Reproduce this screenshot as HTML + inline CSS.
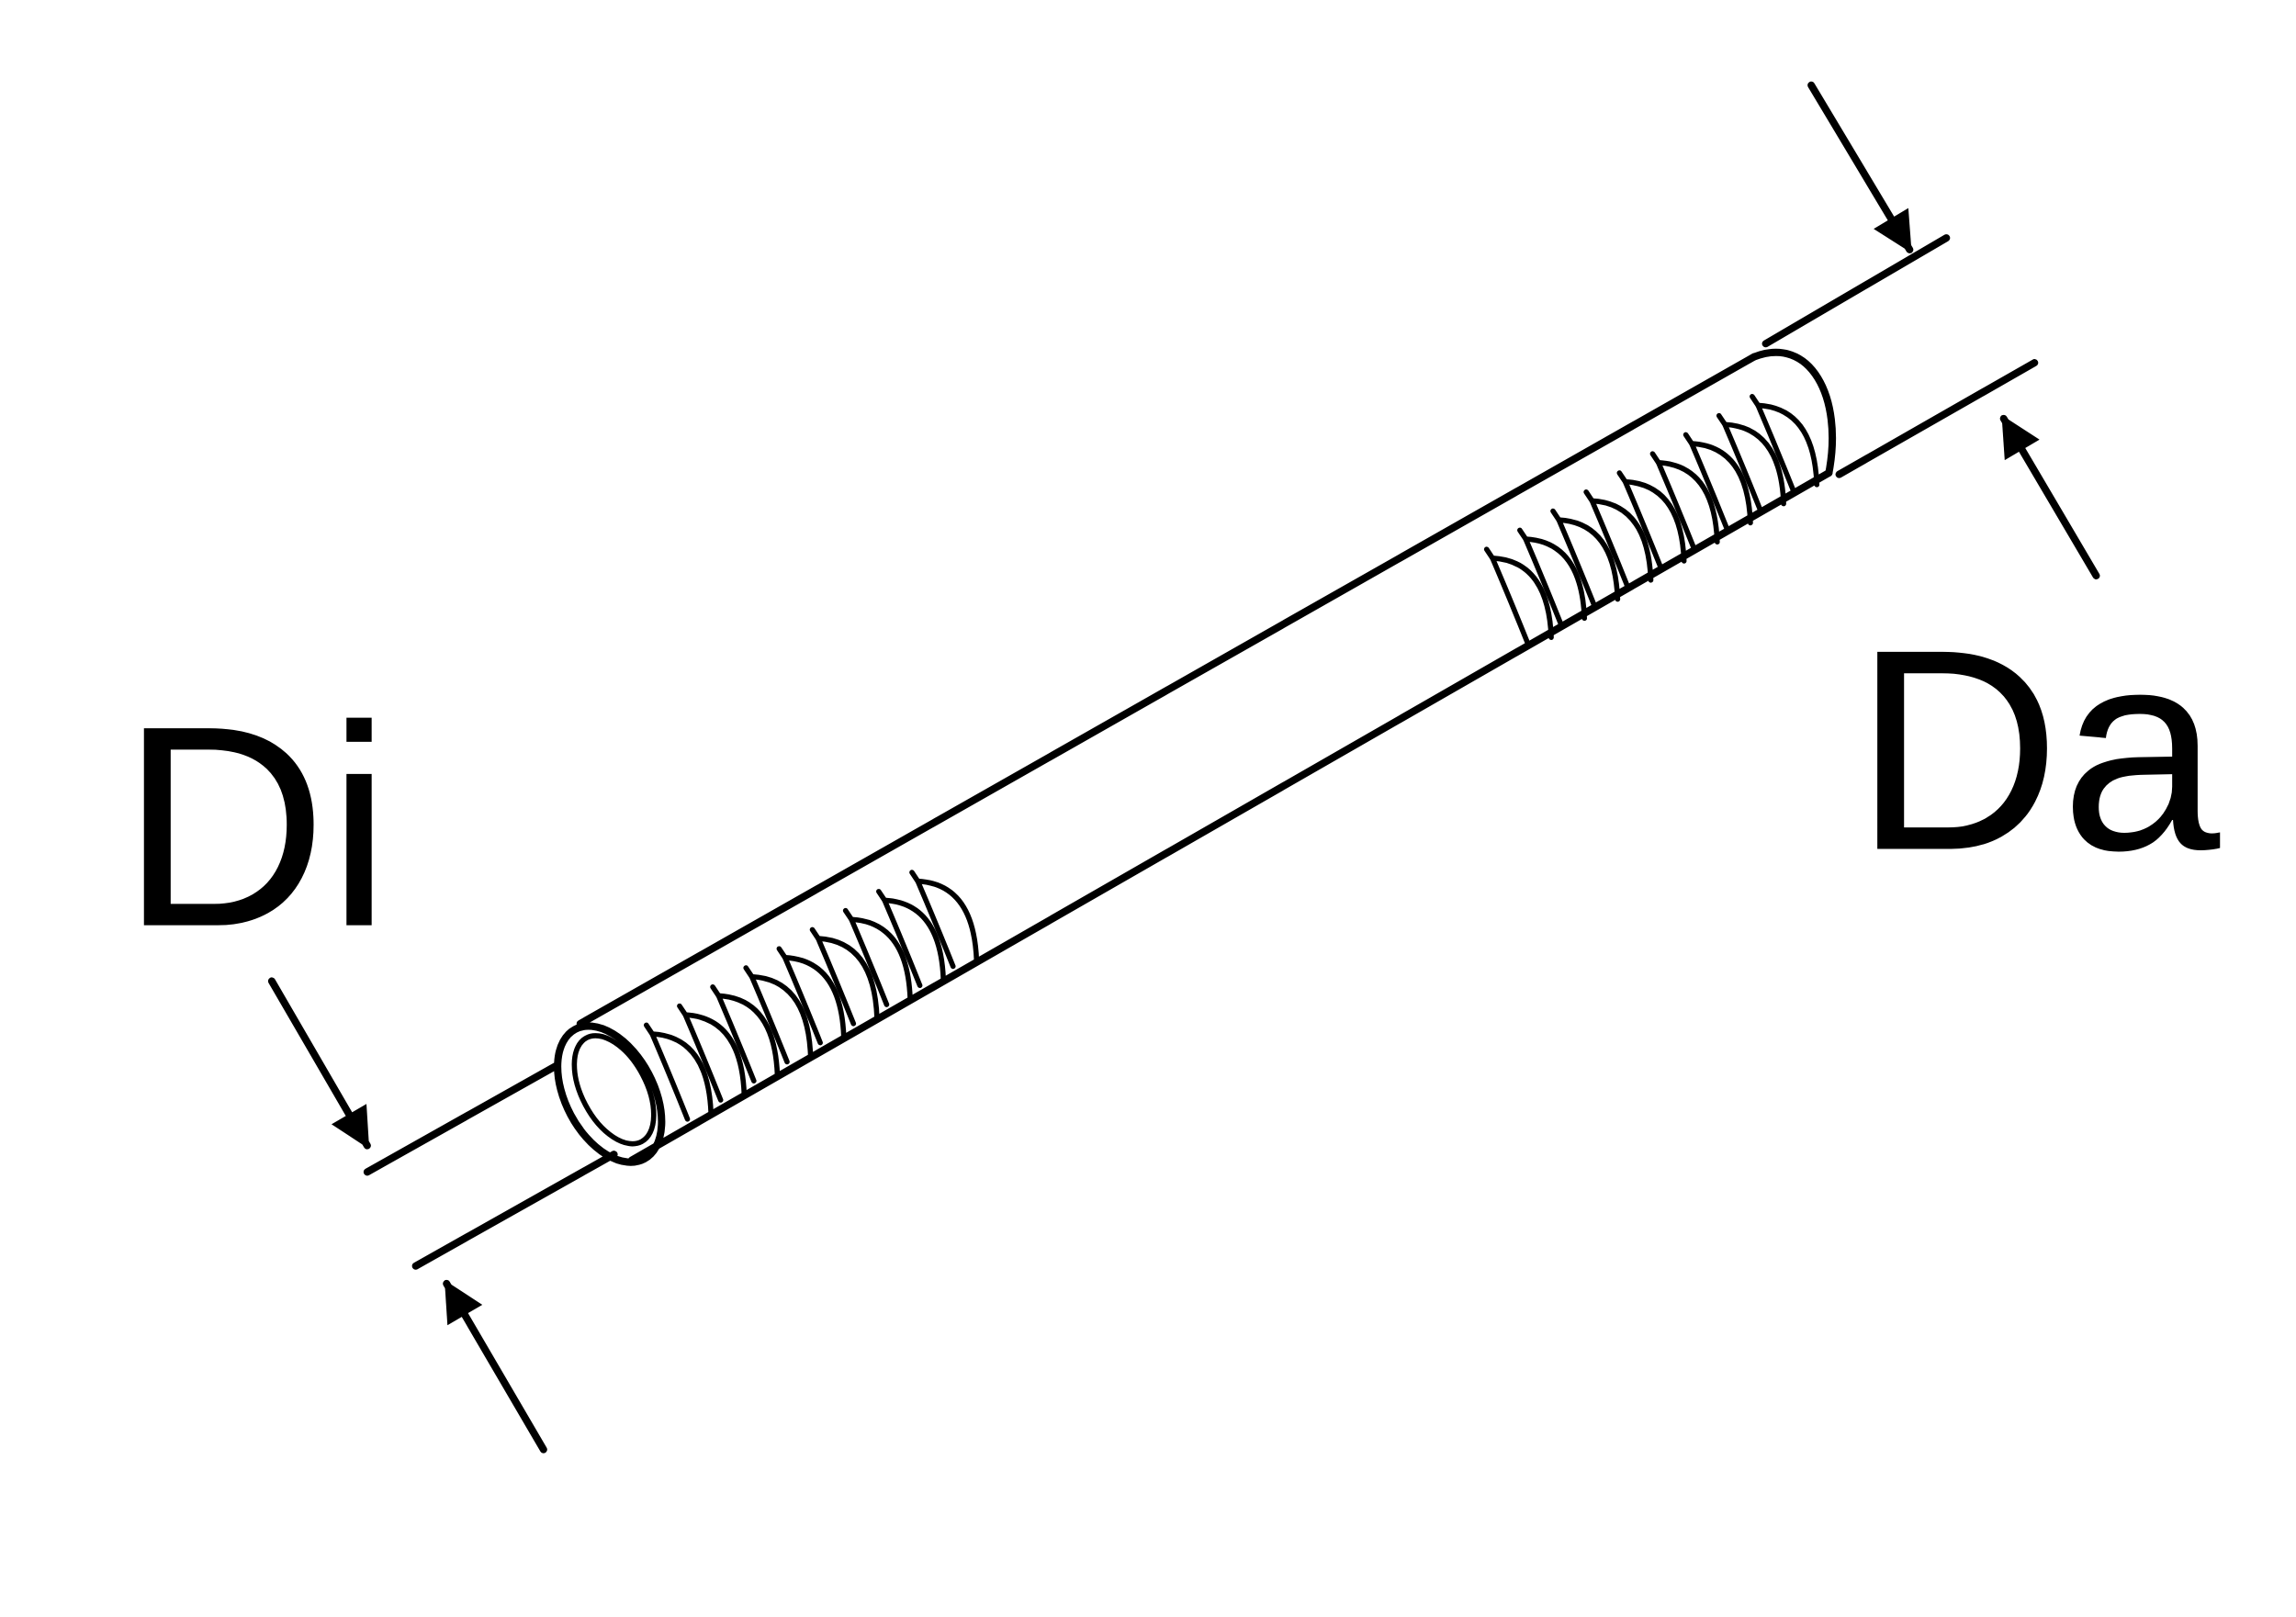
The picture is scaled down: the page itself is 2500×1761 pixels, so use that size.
<!DOCTYPE html>
<html><head><meta charset="utf-8"><style>
html,body{margin:0;padding:0;background:#fff;width:2500px;height:1761px;overflow:hidden}
svg{display:block}
text{font-family:"Liberation Sans",Arial,sans-serif;fill:#000}
</style></head><body>
<svg width="2500" height="1761" viewBox="0 0 1563 1101" preserveAspectRatio="none" xmlns="http://www.w3.org/2000/svg">
<defs>
<marker id="ah" viewBox="0 0 10 10" refX="9" refY="5" markerWidth="9" markerHeight="5.5" orient="auto" markerUnits="strokeWidth"><path d="M0,0 L10,5 L0,10 z" fill="#000"/></marker>
<g id="el"><path d="M0,0 Q38,2 40,54"/><path d="M-4,-6 L0,0 Q12,28 24,58"/></g>
</defs>
<g stroke="#000" stroke-width="5" fill="none" stroke-linecap="round">
<line x1="250" y1="798" x2="378" y2="726"/>
<line x1="283" y1="862" x2="418" y2="786"/>
<line x1="1202" y1="234" x2="1325" y2="162"/>
<line x1="1252" y1="323" x2="1385" y2="247"/>
<line x1="395" y1="697" x2="1194" y2="243"/>
<line x1="430" y1="790" x2="1245" y2="322"/>
<ellipse cx="415" cy="745" rx="30" ry="50" transform="rotate(-28 415 745)"/>
<ellipse cx="418" cy="742" rx="22" ry="40" transform="rotate(-28 418 742)" stroke-width="3.5"/>
<path d="M1194,243 C1232,228 1255,270 1245,322"/>
<line x1="185" y1="668" x2="250" y2="780" marker-end="url(#ah)"/>
<line x1="370" y1="987" x2="304" y2="874" marker-end="url(#ah)"/>
<line x1="1233" y1="58" x2="1300" y2="170" marker-end="url(#ah)"/>
<line x1="1427" y1="392" x2="1364" y2="285" marker-end="url(#ah)"/>
<g stroke-width="3.5">
<use href="#el" x="444" y="704"/><use href="#el" x="466.6" y="691"/><use href="#el" x="489.2" y="678"/>
<use href="#el" x="511.8" y="665"/><use href="#el" x="534.4" y="652"/><use href="#el" x="557" y="639"/>
<use href="#el" x="579.6" y="626"/><use href="#el" x="602.2" y="613"/><use href="#el" x="624.8" y="600"/>
<use href="#el" x="1016" y="380"/><use href="#el" x="1038.6" y="367"/><use href="#el" x="1061.2" y="354"/>
<use href="#el" x="1083.8" y="341"/><use href="#el" x="1106.4" y="328"/><use href="#el" x="1129" y="315"/>
<use href="#el" x="1151.6" y="302"/><use href="#el" x="1174.2" y="289"/><use href="#el" x="1196.8" y="276"/>
</g>
</g>
<text x="82" y="630" font-size="195">Di</text>
<text x="1262" y="578" font-size="195">Da</text>
</svg>
</body></html>
